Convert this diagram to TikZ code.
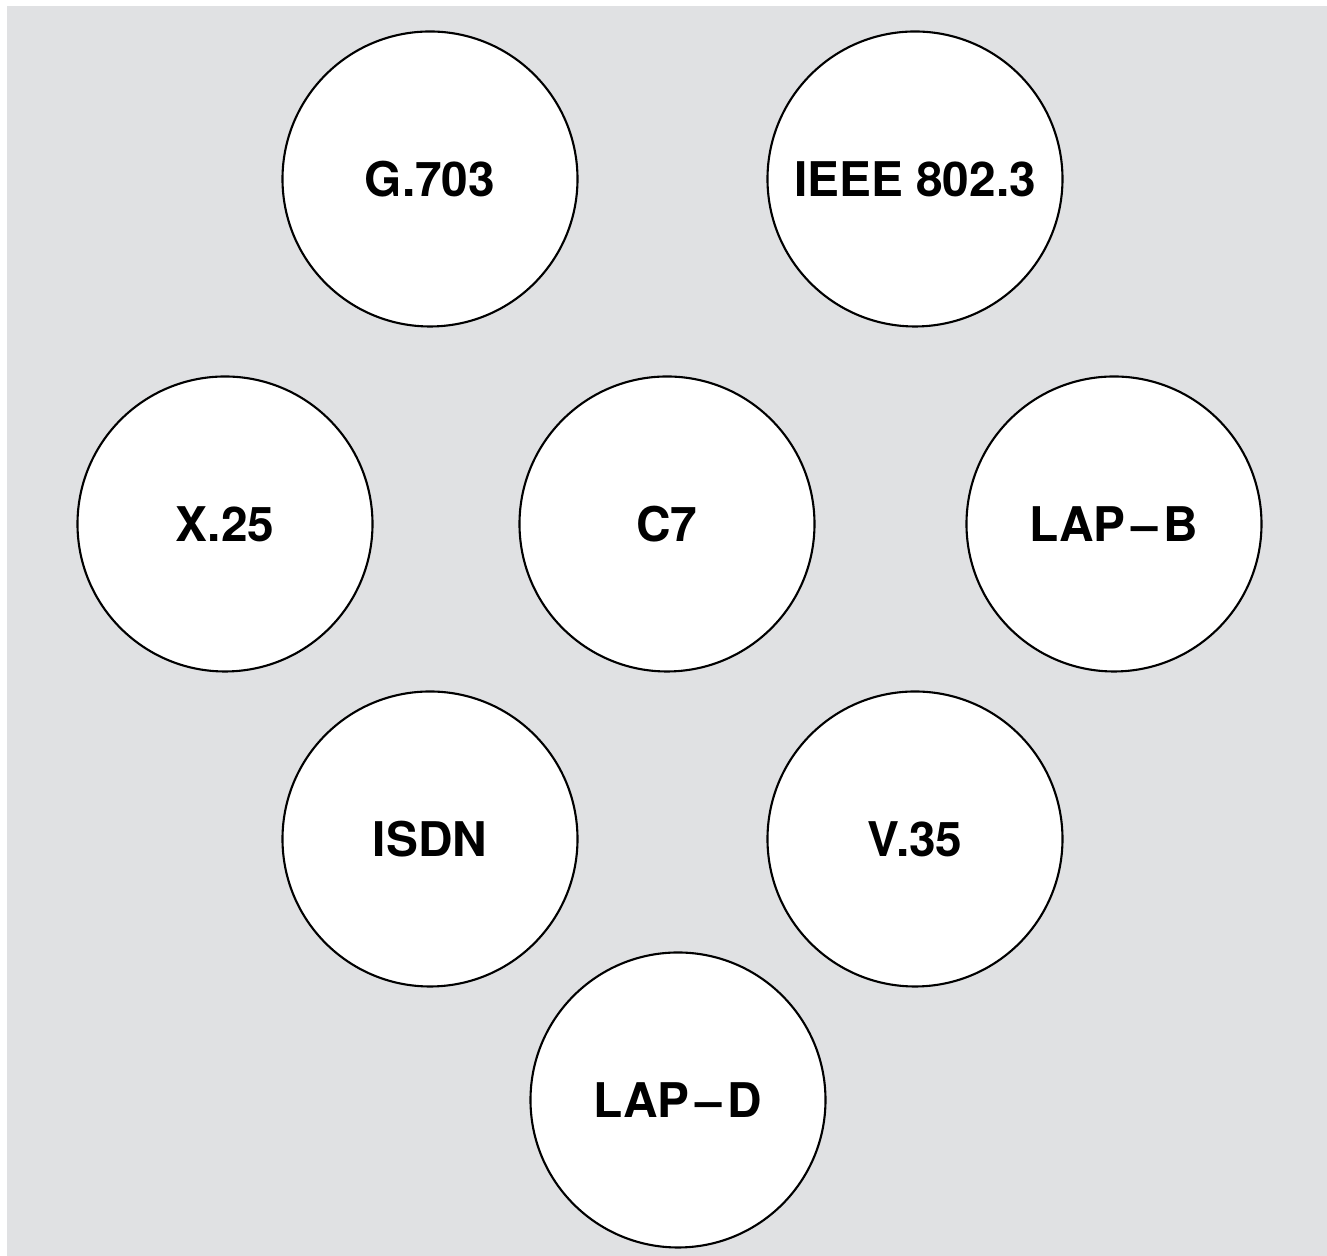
\documentclass[tikz,border=0pt]{standalone}
\usepackage{fontspec}
\setmainfont{TeX Gyre Heros}
\usepackage{xcolor}
\definecolor{back_grey}{RGB}{224,225,227}

\begin{document}
\begin{tikzpicture}[scale=1,
    proto/.style={circle,draw=black,fill=white,line width=0.6pt,minimum size=2.95cm,inner sep=0pt,font=\fontsize{13.6}{16}\selectfont\bfseries}]
              \useasboundingbox (0,0) rectangle (13.27,12.56);
              \fill[back_grey] (0.07,0) rectangle (13.27,12.50);
              \node[proto] (g703) at (4.30,10.77) {G.703};
              \node[proto] (ieee) at (9.15,10.77) {IEEE 802.3};
              \node[proto] (x25) at (2.25,7.32) {X.25};
              \node[proto] (c7) at (6.67,7.32) {C7};
              \node[proto] (lapb) at (11.14,7.32) {LAP\kern0.12em--\kern0.12em B};
              \node[proto] (isdn) at (4.30,4.17) {ISDN};
              \node[proto] (v35) at (9.15,4.17) {V.35};
              \node[proto] (lapd) at (6.78,1.56) {LAP\kern0.12em--\kern0.12em D};
          \end{tikzpicture}
\end{document}
